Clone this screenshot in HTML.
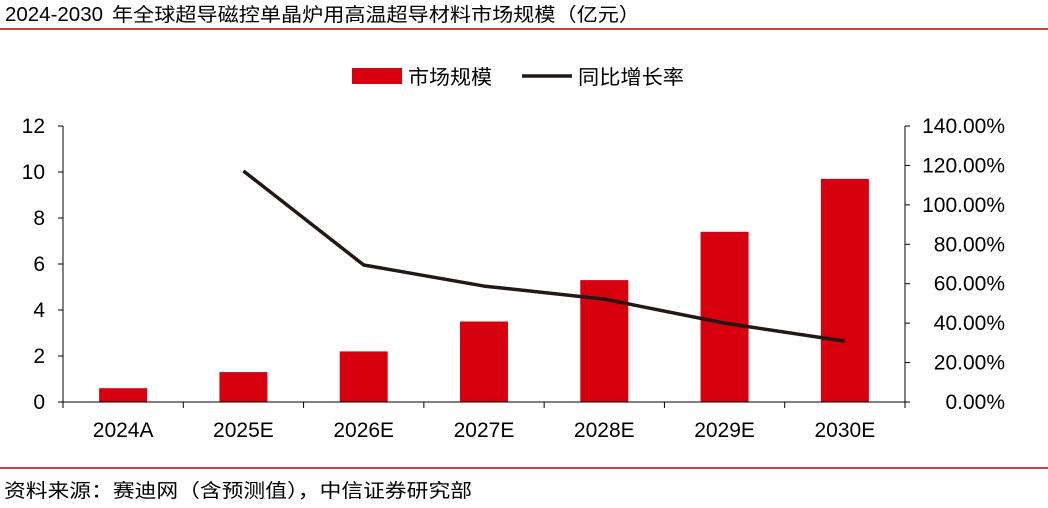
<!DOCTYPE html>
<html><head><meta charset="utf-8"><style>
body{margin:0;width:1048px;height:503px;background:#fff;overflow:hidden;font-family:"Liberation Sans","Noto Sans CJK SC",sans-serif;}
</style></head><body>
<svg width="1048" height="503" xmlns="http://www.w3.org/2000/svg" font-family="Liberation Sans, Noto Sans CJK SC, sans-serif">
<text x="5" y="21" font-size="19" fill="#000"><tspan font-size="20" textLength="98" lengthAdjust="spacingAndGlyphs">2024-2030</tspan><tspan x="112" textLength="528" lengthAdjust="spacingAndGlyphs">年全球超导磁控单晶炉用高温超导材料市场规模（亿元）</tspan></text>
<line x1="0" y1="29" x2="1048" y2="29" stroke="#c00000" stroke-width="1.5"/>
<g>
<rect x="352" y="68" width="50" height="16" fill="#d7000f"/>
<text x="408" y="84" font-size="20" textLength="84" lengthAdjust="spacingAndGlyphs">市场规模</text>
<line x1="522" y1="76" x2="572" y2="76" stroke="#231815" stroke-width="3.5"/>
<text x="578" y="84" font-size="20" textLength="106" lengthAdjust="spacingAndGlyphs">同比增长率</text>
</g>
<g id="chart"></g>
<line x1="0" y1="468" x2="1048" y2="468" stroke="#c00000" stroke-width="1.5"/>
<text x="4" y="497" font-size="19" textLength="468" lengthAdjust="spacingAndGlyphs">资料来源：赛迪网（含预测值），中信证券研究部</text>
</svg>
<script>
const categories=["2024A","2025E","2026E","2027E","2028E","2029E","2030E"];
const marketSize=[0.6,1.3,2.2,3.5,5.3,7.4,9.7];
const growth=[null,117.2,69.5,58.8,52.2,40.0,30.9];
const leftTicks=[0,2,4,6,8,10,12];
const rightTicks=[0,20,40,60,80,100,120,140];
const NS="http://www.w3.org/2000/svg";
const g=document.getElementById('chart');
const X0=63,X1=905,Y0=402,Y1=126;
const step=(X1-X0)/categories.length;
const xc=i=>X0+step*(i+0.5);
const yL=v=>Y0-(v/12)*(Y0-Y1);
const yR=v=>Y0-(v/140)*(Y0-Y1);
function mk(t,a,txt){const e=document.createElementNS(NS,t);for(const k in a)e.setAttribute(k,a[k]);if(txt!=null)e.textContent=txt;g.appendChild(e);return e;}
let e;
e=mk('line',{x1:X0,y1:Y1,x2:X0,y2:Y0,stroke:'#000','stroke-width':1});


e=mk('line',{x1:X1,y1:Y1,x2:X1,y2:Y0,stroke:'#000','stroke-width':1});


leftTicks.forEach(v=>{
 e=mk('line',{x1:X0-5,y1:yL(v),x2:X0,y2:yL(v),stroke:'#000'});
 
 
 e=mk('text',{x:X0-18,y:yL(v)+7,'font-size':21,'text-anchor':'end'},String(v));
 
 
});
rightTicks.forEach(v=>{
 e=mk('line',{x1:X1,y1:yR(v),x2:X1+5,y2:yR(v),stroke:'#000'});
 
 
 e=mk('text',{x:1005,y:yR(v)+7,'font-size':21,'text-anchor':'end'},v.toFixed(2)+'%');
 
 
});
categories.forEach((c,i)=>{
 const h=Y0-yL(marketSize[i]);
 e=mk('rect',{x:xc(i)-24,y:yL(marketSize[i]),width:48,height:h,fill:'#d7000f'});
 
 
 e=mk('text',{x:xc(i),y:Y0+35,'font-size':21,'text-anchor':'middle'},c);
 
 
});
for(let i=0;i<=categories.length;i++){
 e=mk('line',{x1:X0+step*i,y1:Y0,x2:X0+step*i,y2:Y0+6,stroke:'#000'});
 
 
}
e=mk('line',{x1:X0,y1:Y0,x2:X1,y2:Y0,stroke:'#000','stroke-width':1});


const pts=growth.map((v,i)=>v==null?null:xc(i)+','+yR(v)).filter(p=>p);
e=mk('polyline',{points:pts.join(' '),fill:'none',stroke:'#231815','stroke-width':3.5,'stroke-linejoin':'round'});


</script>
</body></html>
